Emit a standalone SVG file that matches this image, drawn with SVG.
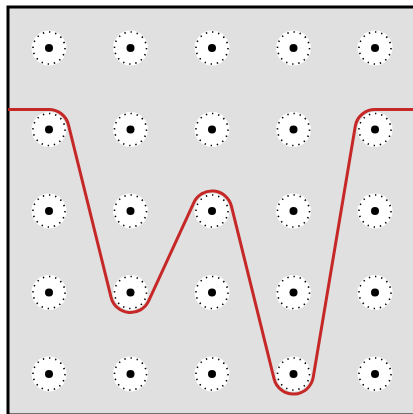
<svg xmlns="http://www.w3.org/2000/svg" width="413" height="414" viewBox="0 0 413 414">
<style>
.bg{fill:#e0e0e0;stroke:#000;stroke-width:3}
.peg-bg{fill:#fff}
.peg-ring{fill:none;stroke:#000;stroke-width:1.6;stroke-dasharray:0.22 0.78}
.peg-dot{fill:#000}
.rope{fill:none;stroke:#c62828;stroke-width:3;stroke-linejoin:round}
</style>
<defs>
<g id="peg">
<circle class="peg-bg" r="17.5"/>
<circle class="peg-ring" r="16" pathLength="16"/>
<circle class="peg-dot" r="4"/>
</g>
</defs>
<rect class="bg" x="8" y="7" width="410" height="408"/>
<g id="pegs">
<g id="peg-r1"><use href="#peg" x="49" y="48"/><use href="#peg" x="130.5" y="48"/><use href="#peg" x="212" y="48"/><use href="#peg" x="293.5" y="48"/><use href="#peg" x="375" y="48"/></g>
<g id="peg-r2"><use href="#peg" x="49" y="129.5"/><use href="#peg" x="130.5" y="129.5"/><use href="#peg" x="212" y="129.5"/><use href="#peg" x="293.5" y="129.5"/><use href="#peg" x="375" y="129.5"/></g>
<g id="peg-r3"><use href="#peg" x="49" y="211"/><use href="#peg" x="130.5" y="211"/><use href="#peg" x="212" y="211"/><use href="#peg" x="293.5" y="211"/><use href="#peg" x="375" y="211"/></g>
<g id="peg-r4"><use href="#peg" x="49" y="292.5"/><use href="#peg" x="130.5" y="292.5"/><use href="#peg" x="212" y="292.5"/><use href="#peg" x="293.5" y="292.5"/><use href="#peg" x="375" y="292.5"/></g>
<g id="peg-r5"><use href="#peg" x="49" y="374"/><use href="#peg" x="130.5" y="374"/><use href="#peg" x="212" y="374"/><use href="#peg" x="293.5" y="374"/><use href="#peg" x="375" y="374"/></g>
</g>
<g id="connectors">
<path class="rope" d="M8,109.5 H49 A20,20 0 0 1 68.42,124.70 L111.08,297.30 A20,20 0 0 0 148.67,300.86 L193.83,202.64 A20,20 0 0 1 231.42,206.20 L274.08,378.80 A20,20 0 0 0 313.23,377.30 L355.27,126.20 A20,20 0 0 1 375,109.5 H413"/>
</g>
</svg>
